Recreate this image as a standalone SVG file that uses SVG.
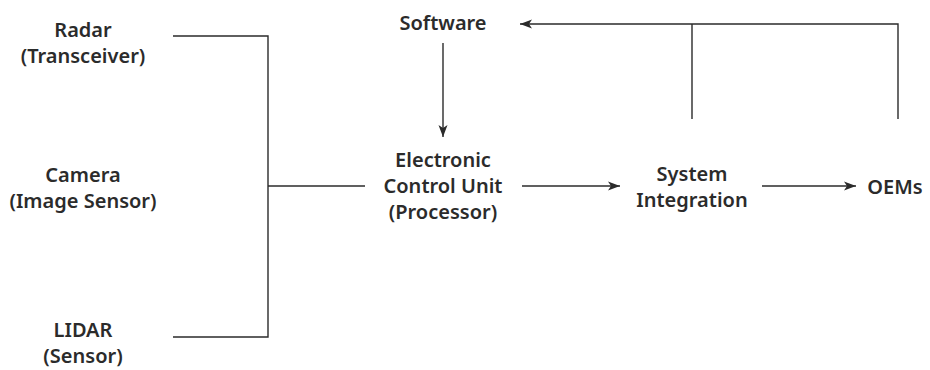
<svg xmlns="http://www.w3.org/2000/svg" width="930" height="370" viewBox="0 0 930 370">
<style>
text{font-family:"Noto Sans","Open Sans","Liberation Sans",sans-serif;font-weight:600;font-size:20px;fill:#2b2b2b;text-anchor:middle}
.c{stroke:#2b2b2b;stroke-width:1.4;fill:none}
</style>
<defs>
<marker id="ah" markerWidth="13" markerHeight="10" refX="12" refY="5" orient="auto" markerUnits="userSpaceOnUse">
<path d="M0,0.5 L12,5 L0,9.5 L3,5 Z" fill="#2b2b2b"/>
</marker>
</defs>
<rect width="930" height="370" fill="#fff"/>
<g id="connectors">
<path class="c" d="M173,36 H268 V337 H173"/>
<path class="c" d="M268,186 H365"/>
<path class="c" d="M443,43 V137" marker-end="url(#ah)"/>
<path class="c" d="M522,186 H620" marker-end="url(#ah)"/>
<path class="c" d="M762,186 H856" marker-end="url(#ah)"/>
<path class="c" d="M692,119 V24 M898,119 V24 H520" marker-end="url(#ah)"/>
</g>
<g id="radar"><text x="83" y="37">Radar</text><text x="83" y="63">(Transceiver)</text></g>
<g id="camera"><text x="83" y="182">Camera</text><text x="83" y="208">(Image Sensor)</text></g>
<g id="lidar"><text x="83" y="337">LIDAR</text><text x="83" y="363">(Sensor)</text></g>
<g id="software"><text x="443" y="30">Software</text></g>
<g id="ecu"><text x="443" y="167">Electronic</text><text x="443" y="193">Control Unit</text><text x="443" y="219">(Processor)</text></g>
<g id="sysint"><text x="692" y="181">System</text><text x="692" y="207">Integration</text></g>
<g id="oems"><text x="895" y="194">OEMs</text></g>
</svg>
